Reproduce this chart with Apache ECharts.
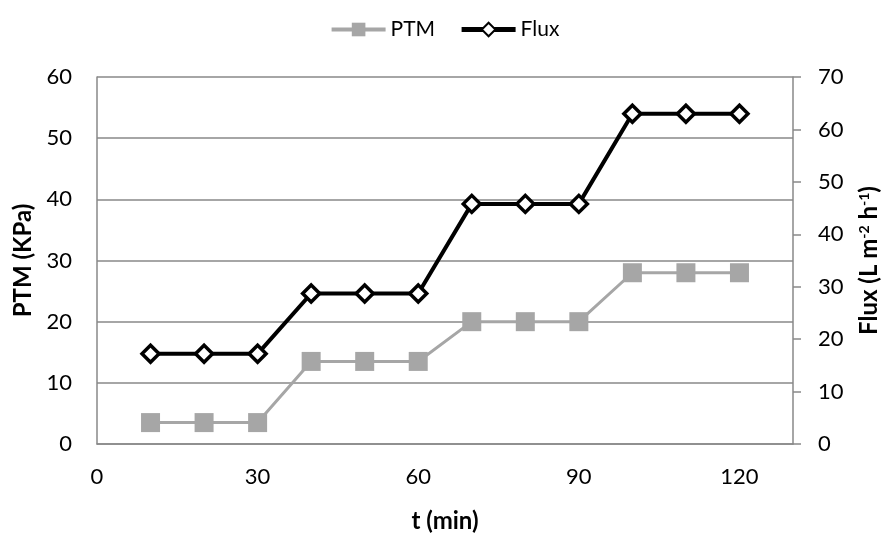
<!DOCTYPE html>
<html>
<head>
<meta charset="utf-8">
<script src="https://cdn.jsdelivr.net/npm/echarts@6/dist/echarts.min.js"></script>
<style>html,body{margin:0;padding:0;background:#fff}#c{width:889px;height:538px}</style>
</head>
<body>
<div id="c"></div>
<script>
var timeMin = [10, 20, 30, 40, 50, 60, 70, 80, 90, 100, 110, 120];
var ptm = [3.5, 3.5, 3.5, 13.5, 13.5, 13.5, 20, 20, 20, 28, 28, 28];
var flux = [17.2, 17.2, 17.2, 28.7, 28.7, 28.7, 45.8, 45.8, 45.8, 63, 63, 63];

var FONT = 'Lato, "Liberation Sans", sans-serif';
var chart = echarts.init(document.getElementById('c'), null, {renderer: 'canvas'});
chart.setOption({
  animation: false,
  textStyle: {fontFamily: FONT},
  legend: {
    top: 14, left: 'center', itemGap: 24, itemWidth: 54, itemHeight: 17,
    textStyle: {fontSize: 21, color: '#000', fontFamily: FONT},
    data: [
      {name: 'PTM', lineStyle: {width: 4, color: '#A6A6A6'}},
      {name: 'Flux', lineStyle: {width: 5, color: '#000'}}
    ]
  },
  grid: {left: 97, right: 88, top: 77, bottom: 90, containLabel: false},
  xAxis: {
    type: 'value', min: 0, max: 130, interval: 30,
    name: 't (min)', nameLocation: 'middle', nameGap: 65,
    nameTextStyle: {fontSize: 24, fontWeight: 'bold', color: '#000', fontFamily: FONT},
    axisLine: {show: true, lineStyle: {color: '#898989', width: 1.5}},
    axisTick: {show: false},
    splitLine: {show: false},
    axisLabel: {fontSize: 22, color: '#000', margin: 22, showMaxLabel: false, fontFamily: FONT}
  },
  yAxis: [{
    type: 'value', min: 0, max: 60, interval: 10, position: 'left',
    name: 'PTM (KPa)', nameLocation: 'middle', nameGap: 62, nameRotate: 90,
    nameTextStyle: {fontSize: 24, fontWeight: 'bold', color: '#000', fontFamily: FONT},
    axisLine: {show: true, lineStyle: {color: '#898989', width: 1.5}},
    axisTick: {show: false},
    splitLine: {show: true, lineStyle: {color: '#898989', width: 1.5}},
    axisLabel: {fontSize: 22, color: '#000', margin: 25, fontFamily: FONT}
  }, {
    type: 'value', min: 0, max: 70, interval: 10, position: 'right',
    name: '{b|Flux (L m}{s|-2}{b| h}{s|-1}{b|)}', nameLocation: 'middle', nameGap: 64, nameRotate: 90,
    nameTextStyle: {
      fontFamily: FONT,
      rich: {
        b: {fontSize: 24, fontWeight: 'bold', color: '#000', fontFamily: FONT},
        s: {fontSize: 14, fontWeight: 'bold', color: '#000', fontFamily: FONT, verticalAlign: 'top', padding: [0, 0, 10, 0]}
      }
    },
    axisLine: {show: true, lineStyle: {color: '#898989', width: 1.5}},
    axisTick: {show: true, inside: false, length: 8, lineStyle: {color: '#898989', width: 1.5}},
    splitLine: {show: false},
    axisLabel: {fontSize: 22, color: '#000', margin: 25, fontFamily: FONT}
  }],
  series: [{
    name: 'PTM', type: 'line', yAxisIndex: 0,
    data: timeMin.map(function (t, i) { return [t, ptm[i]]; }),
    symbol: 'rect', symbolSize: 19,
    lineStyle: {color: '#A6A6A6', width: 3},
    itemStyle: {color: '#A6A6A6', borderColor: '#A6A6A6', borderWidth: 0},
    z: 2
  }, {
    name: 'Flux', type: 'line', yAxisIndex: 1,
    data: timeMin.map(function (t, i) { return [t, flux[i]]; }),
    symbol: 'diamond', symbolSize: 17,
    lineStyle: {color: '#000', width: 4},
    itemStyle: {color: '#fff', borderColor: '#000', borderWidth: 3.5},
    z: 3
  }]
});
</script>
</body>
</html>
